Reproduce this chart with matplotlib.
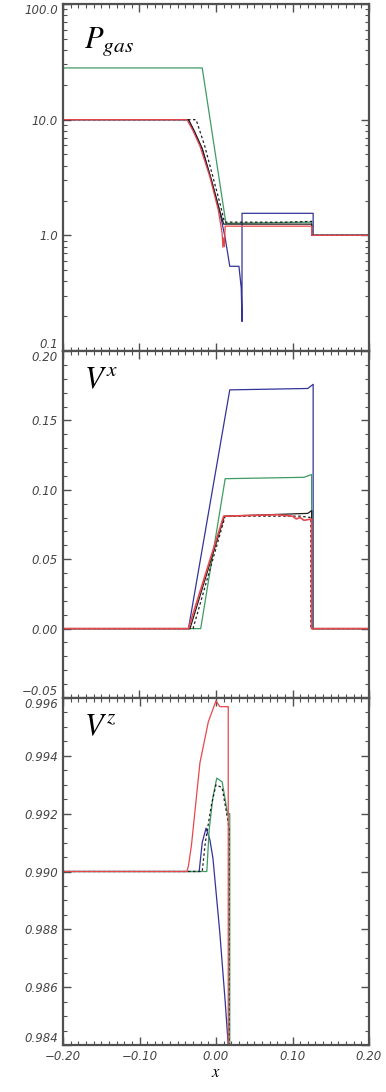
import numpy as np
import matplotlib
matplotlib.use("Agg")
import matplotlib.pyplot as plt
from matplotlib.ticker import MultipleLocator, FixedLocator, NullFormatter, LogLocator

plt.rcParams['mathtext.fontset'] = 'stix'

# ---------------- data ----------------
# panel 1 : P_gas (log)
pg_x_green = [-0.2, -0.018, 0.013, 0.125, 0.125, 0.2]
pg_y_green = [28.0, 28.0, 1.27, 1.30, 1.0, 1.0]
pg_x_red = [-0.2, -0.038, -0.030, -0.021, -0.008, 0.003, 0.008, 0.009, 0.010, 0.011, 0.012, 0.125, 0.125, 0.2]
pg_y_red = [10.0, 10.0, 8.0, 5.9, 3.2, 1.65, 1.04, 0.79, 0.95, 0.80, 1.20, 1.20, 1.0, 1.0]
pg_x_black = [-0.2, -0.036, -0.028, -0.018, -0.006, 0.004, 0.010, 0.013, 0.125, 0.125, 0.2]
pg_y_black = [10.0, 10.0, 7.9, 5.6, 3.0, 1.7, 1.25, 1.25, 1.25, 1.0, 1.0]
pg_x_blue = [-0.2, -0.036, -0.018, -0.006, 0.004, 0.012, 0.018, 0.030, 0.033, 0.034, 0.034, 0.127, 0.127, 0.2]
pg_y_blue = [10.0, 10.0, 5.6, 3.0, 1.7, 0.95, 0.54, 0.54, 0.35, 0.18, 1.55, 1.55, 1.0, 1.0]
pg_x_dash = [-0.2, -0.026, -0.015, -0.004, 0.006, 0.011, 0.090, 0.125, 0.125, 0.2]
pg_y_dash = [10.0, 10.0, 6.0, 3.2, 1.8, 1.30, 1.30, 1.32, 1.0, 1.0]

# panel 2 : V^x
vx_x_blue = [-0.2, -0.036, 0.018, 0.120, 0.127, 0.127, 0.2]
vx_y_blue = [0.0, 0.0, 0.172, 0.173, 0.176, 0.0, 0.0]
vx_x_green = [-0.2, -0.020, 0.012, 0.115, 0.125, 0.125, 0.126, 0.126, 0.2]
vx_y_green = [0.0, 0.0, 0.108, 0.109, 0.111, 0.085, 0.085, 0.0, 0.0]
vx_x_red = [-0.2, -0.036, 0.010, 0.080, 0.100, 0.105, 0.110, 0.115, 0.125, 0.125, 0.2]
vx_y_red = [0.0, 0.0, 0.081, 0.082, 0.081, 0.079, 0.080, 0.078, 0.079, 0.0, 0.0]
vx_x_black = [-0.2, -0.034, 0.011, 0.120, 0.125, 0.125, 0.2]
vx_y_black = [0.0, 0.0, 0.081, 0.083, 0.085, 0.0, 0.0]
vx_x_dash = [-0.2, -0.030, 0.012, 0.110, 0.124, 0.124, 0.2]
vx_y_dash = [0.0, 0.0, 0.081, 0.081, 0.080, 0.0, 0.0]

# panel 3 : V^z
vz_x_red = [-0.2, -0.038, -0.036, -0.032, -0.021, -0.010, 0.000, 0.005, 0.015, 0.016, 0.016]
vz_y_red = [0.990, 0.990, 0.9902, 0.99093, 0.99376, 0.99518, 0.99590, 0.99570, 0.99570, 0.9957, 0.9838]
vz_x_blue = [-0.2, -0.022, -0.018, -0.013, -0.008, -0.004, 0.005, 0.012, 0.016]
vz_y_blue = [0.990, 0.990, 0.9910, 0.99150, 0.99110, 0.99046, 0.98788, 0.98550, 0.98400]
vz_x_green = [-0.2, -0.012, -0.009, -0.004, 0.001, 0.008, 0.012, 0.015, 0.018, 0.018]
vz_y_green = [0.990, 0.990, 0.99142, 0.99258, 0.99323, 0.99310, 0.99250, 0.99200, 0.99200, 0.9838]
vz_x_dash = [-0.2, -0.018, -0.014, -0.006, 0.000, 0.008, 0.014, 0.017, 0.017]
vz_y_dash = [0.990, 0.990, 0.99100, 0.99230, 0.99300, 0.99290, 0.99200, 0.99150, 0.9838]

pg_ticks = [0.1, 1, 10, 100]
pg_labels = ['0.1', '1.0', '10.0', '100.0']
vx_ticks = [-0.05, 0.0, 0.05, 0.10, 0.15, 0.20]
vx_labels = ['\u22120.05', '0.00', '0.05', '0.10', '0.15', '0.20']
vz_ticks = [0.984, 0.986, 0.988, 0.990, 0.992, 0.994, 0.996]
vz_labels = ['0.984', '0.986', '0.988', '0.990', '0.992', '0.994', '0.996']
x_ticks = [-0.2, -0.1, 0.0, 0.1, 0.2]
x_labels = ['\u22120.20', '\u22120.10', '0.00', '0.10', '0.20']

c_red = '#e8474c'
c_green = '#3f9b64'
c_blue = '#33339a'
c_black = '#1e1e1e'
c_tick = '#505050'

fig = plt.figure(figsize=(3.86, 10.92), dpi=100)
left, width = 63/386, 306/386
h = 347/1092
bot = 47/1092
axs = [fig.add_axes([left, bot + 2*h, width, h]),
       fig.add_axes([left, bot + h, width, h]),
       fig.add_axes([left, bot, width, h])]

def style(ax, yt, yl):
  for sp in ax.spines.values():
    sp.set_linewidth(1.6)
    sp.set_color(c_tick)
  ax.set_yticks(yt)
  ax.set_yticklabels(yl)
  ax.tick_params(which='both', direction='in', top=True, right=True,
                 color=c_tick, labelcolor='#454545', labelsize=8.5)
  ax.tick_params(which='major', length=6, width=1.0)
  ax.tick_params(which='minor', length=3, width=0.8)
  ax.set_xlim(-0.2, 0.2)
  ax.xaxis.set_major_locator(MultipleLocator(0.1))
  ax.xaxis.set_minor_locator(MultipleLocator(0.01))
  labs = ax.get_yticklabels()
  for lab in labs:
    lab.set_fontstyle('italic')
  # keep end labels inside the panel like the reference
  labs[0].set_verticalalignment('bottom')
  labs[-1].set_verticalalignment('top')
#end def style

lw = 0.9
# ---- P_gas ----
ax = axs[0]
ax.set_yscale('log')
ax.plot(pg_x_green, pg_y_green, color=c_green, lw=lw)
ax.plot(pg_x_blue, pg_y_blue, color=c_blue, lw=lw)
ax.plot(pg_x_black, pg_y_black, color=c_black, lw=lw)
ax.plot(pg_x_dash, pg_y_dash, color=c_black, lw=lw, ls=(0, (2, 2)))
ax.plot(pg_x_red, pg_y_red, color=c_red, lw=lw)
ax.set_ylim(0.1, 100)
ax.yaxis.set_minor_locator(LogLocator(subs=np.arange(2, 10)))
ax.yaxis.set_minor_formatter(NullFormatter())
ax.text(0.07, 0.94, r'$P_{gas}$', transform=ax.transAxes, fontsize=22, va='top')
style(ax, pg_ticks, pg_labels)
ax.xaxis.set_major_formatter(NullFormatter())

# ---- V^x ----
ax = axs[1]
ax.plot(vx_x_blue, vx_y_blue, color=c_blue, lw=lw)
ax.plot(vx_x_green, vx_y_green, color=c_green, lw=lw)
ax.plot(vx_x_black, vx_y_black, color=c_black, lw=lw)
ax.plot(vx_x_dash, vx_y_dash, color=c_black, lw=lw, ls=(0, (2, 2)))
ax.plot(vx_x_red, vx_y_red, color=c_red, lw=1.2)
ax.set_ylim(-0.05, 0.2)
ax.yaxis.set_minor_locator(MultipleLocator(0.01))
ax.text(0.07, 0.96, r'$V^{x}$', transform=ax.transAxes, fontsize=22, va='top')
style(ax, vx_ticks, vx_labels)
ax.xaxis.set_major_formatter(NullFormatter())

# ---- V^z ----
ax = axs[2]
ax.plot(vz_x_blue, vz_y_blue, color=c_blue, lw=lw)
ax.plot(vz_x_green, vz_y_green, color=c_green, lw=lw)
ax.plot(vz_x_dash, vz_y_dash, color=c_black, lw=lw, ls=(0, (2, 2)))
ax.plot(vz_x_red, vz_y_red, color=c_red, lw=lw)
ax.set_ylim(0.984, 0.996)
ax.yaxis.set_minor_locator(MultipleLocator(0.0005))
ax.text(0.07, 0.96, r'$V^{z}$', transform=ax.transAxes, fontsize=22, va='top')
style(ax, vz_ticks, vz_labels)
ax.set_xticks(x_ticks)
ax.set_xticklabels(x_labels, fontstyle='italic')
ax.set_xlabel(r'$x$', fontsize=12, labelpad=0)

plt.savefig("out.png", dpi=100)
